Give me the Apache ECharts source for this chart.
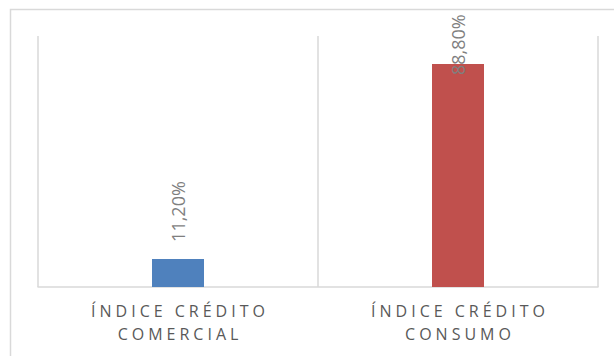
<!DOCTYPE html>
<html>
<head>
<meta charset="utf-8">
<script src="https://cdn.jsdelivr.net/npm/echarts@6/dist/echarts.min.js"></script>
<style>
html,body{margin:0;padding:0;background:#fff;}
#c{width:614px;height:356px;}
</style>
</head>
<body>
<div id="c"></div>
<script>
const categories = ['ÍNDICE CRÉDITO\nCOMERCIAL', 'ÍNDICE CRÉDITO\nCONSUMO'];
const values = [11.2, 88.8];
const barColors = ['#4f81bd', '#c0504d'];

const chart = echarts.init(document.getElementById('c'), null, {renderer: 'svg'});
// Excel keeps a label inside the plot: tall bars get their label pulled down onto the bar
const fitsAbove = v => v < 80;
chart.setOption({
  animation: false,
  graphic: [{
    type: 'rect', silent: true,
    shape: {x: 10.5, y: 9.5, width: 700, height: 400},
    style: {fill: 'none', stroke: '#d9d9d9', lineWidth: 1.5}
  }],
  grid: {left: 38, right: 16, top: 36, bottom: 69},
  xAxis: {
    type: 'category',
    data: categories,
    axisTick: {show: false},
    axisLine: {lineStyle: {color: '#d9d9d9', width: 1.5}},
    splitLine: {show: true, lineStyle: {color: '#d9d9d9', width: 1.5}},
    axisLabel: {
      color: '#595959', fontFamily: 'Open Sans', fontSize: 16,
      lineHeight: 23, margin: 12, interval: 0
    }
  },
  yAxis: {type: 'value', min: 0, max: 100, show: false, splitLine: {show: false}},
  series: [{
    type: 'bar',
    barWidth: 52,
    data: values.map((v, i) => ({
      value: v,
      itemStyle: {color: barColors[i]},
      label: {distance: fitsAbove(v) ? 17 : -11}
    })),
    label: {
      show: true, position: 'top', rotate: 90,
      align: 'left', verticalAlign: 'middle',
      color: '#7f7f7f', fontFamily: 'Open Sans', fontSize: 18,
      formatter: p => p.value.toFixed(2).replace('.', ',') + '%'
    }
  }]
});

function spaceLabels() {
  const lines = new Set();
  categories.forEach(c => c.split('\n').forEach(l => lines.add(l)));
  document.querySelectorAll('#c svg text').forEach(t => {
    if (lines.has(t.textContent)) {
      t.style.letterSpacing = '4px';
      t.setAttribute('dx', '2');
    }
  });
}
chart.on('finished', spaceLabels);
spaceLabels();
setTimeout(spaceLabels, 50);
</script>
</body>
</html>
